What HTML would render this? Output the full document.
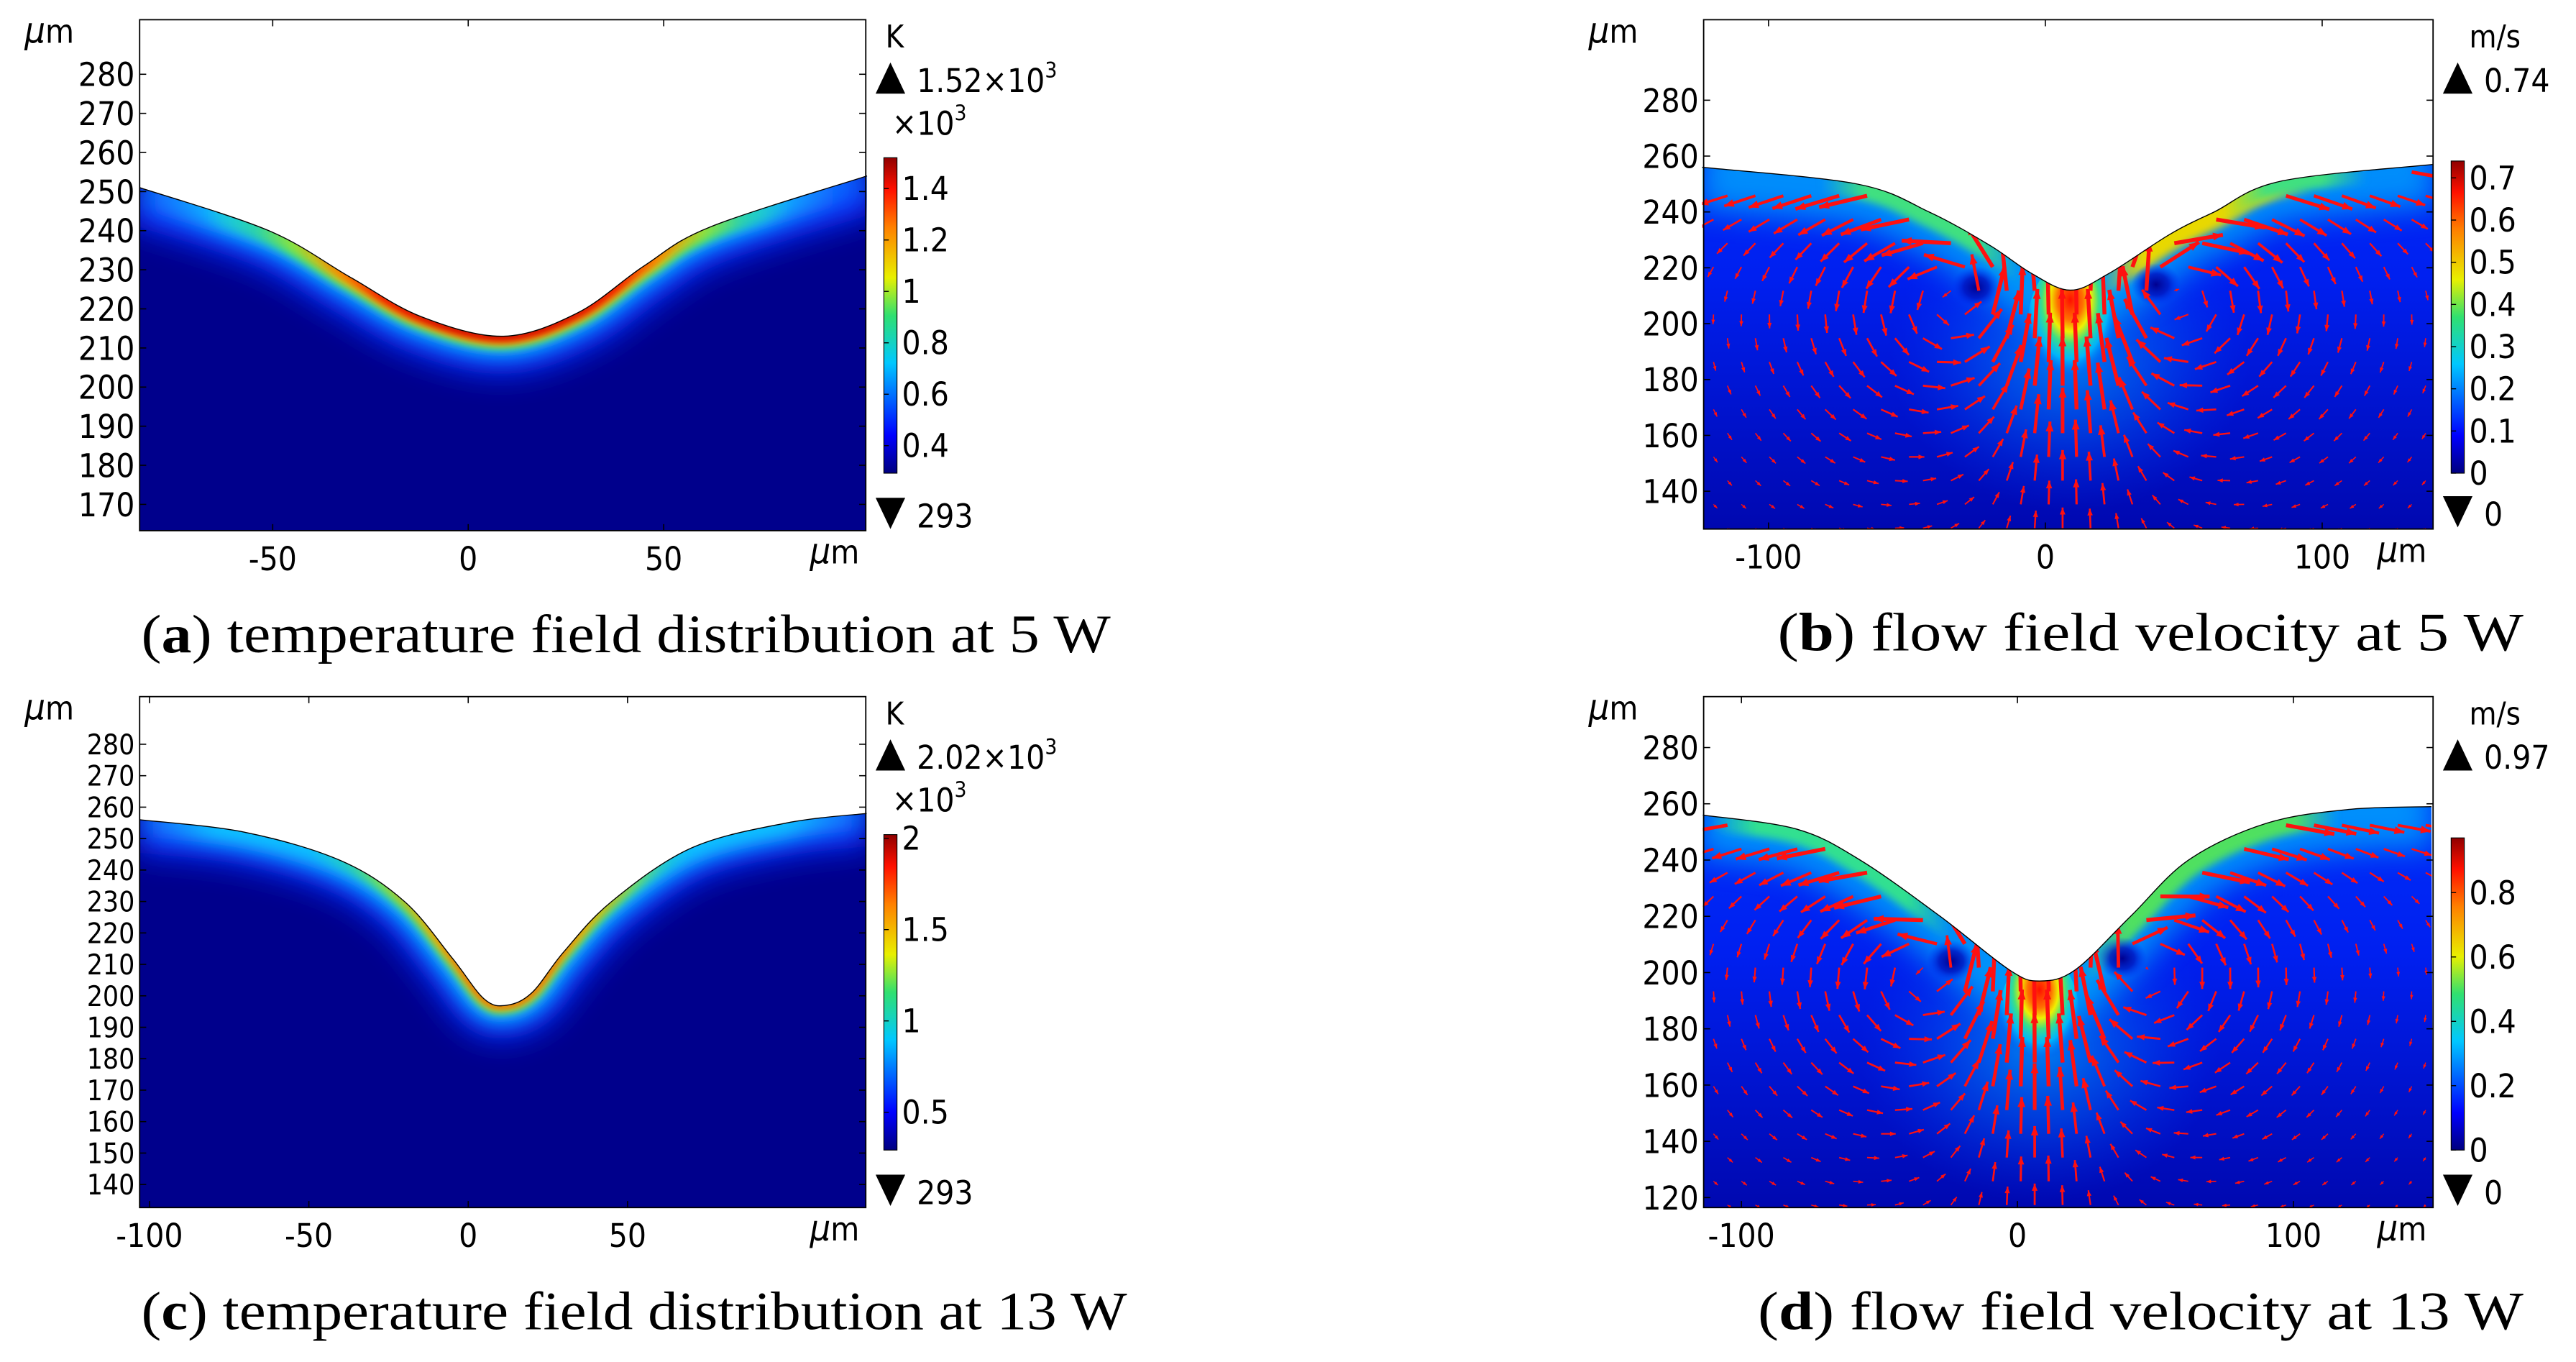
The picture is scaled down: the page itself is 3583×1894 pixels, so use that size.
<!DOCTYPE html>
<html><head><meta charset="utf-8"><style>
html,body{margin:0;padding:0;background:#fff;}
svg{display:block;}
.tk{font-family:"DejaVu Sans Condensed","DejaVu Sans","Liberation Sans",sans-serif;fill:#000;}
.cap{font-family:"Liberation Serif","DejaVu Serif",serif;fill:#000;}
</style></head><body>
<svg id="fig" width="3583" height="1894" viewBox="0 0 1568 829" preserveAspectRatio="none" xmlns="http://www.w3.org/2000/svg">
<defs>
<filter id="blur3" filterUnits="userSpaceOnUse" x="0" y="0" width="1568" height="829"><feGaussianBlur stdDeviation="2.5"/></filter>
<filter id="blur6" filterUnits="userSpaceOnUse" x="0" y="0" width="1568" height="829"><feGaussianBlur stdDeviation="6"/></filter>
<filter id="blur10" filterUnits="userSpaceOnUse" x="0" y="0" width="1568" height="829"><feGaussianBlur stdDeviation="9"/></filter>
<linearGradient id="jetT" x1="0" y1="1" x2="0" y2="0">
<stop offset="0" stop-color="#00007f"/><stop offset="0.12" stop-color="#0000ff"/><stop offset="0.35" stop-color="#00c8ff"/><stop offset="0.5" stop-color="#30e070"/><stop offset="0.62" stop-color="#e8f000"/><stop offset="0.78" stop-color="#ff8000"/><stop offset="0.9" stop-color="#ff1000"/><stop offset="1" stop-color="#900000"/>
</linearGradient>
<linearGradient id="velBg" x1="0" y1="0" x2="0" y2="1">
<stop offset="0" stop-color="#0038ff"/><stop offset="0.5" stop-color="#0020f0"/><stop offset="1" stop-color="#0008b0"/>
</linearGradient>
<radialGradient id="blob" cx="0.5" cy="0.3" r="0.6"><stop offset="0" stop-color="#ff1000"/><stop offset="0.25" stop-color="#ff7000"/><stop offset="0.4" stop-color="#f0f000"/><stop offset="0.55" stop-color="#40e080"/><stop offset="0.75" stop-color="#00d0ff" stop-opacity="0.7"/><stop offset="1" stop-color="#0040ff" stop-opacity="0"/></radialGradient>
<radialGradient id="halo"><stop offset="0" stop-color="#00c8ff" stop-opacity="0.6"/><stop offset="0.5" stop-color="#0080ff" stop-opacity="0.35"/><stop offset="1" stop-color="#0040ff" stop-opacity="0"/></radialGradient>
<radialGradient id="vort"><stop offset="0" stop-color="#000090"/><stop offset="0.5" stop-color="#0010c0" stop-opacity="0.8"/><stop offset="1" stop-color="#0030ff" stop-opacity="0"/></radialGradient>
</defs>
</svg>
<script>
// ---------- data ----------
const surfA_x=[-84,-51,-30,-12,9,28,45,62,102];
const surfA_y=[251,240,228,218,213,219,231,241,254];
const surfB_x=[-124,-68,-42,-20,-5,9,23,45,61,85,140];
const surfB_y=[256,250,240,228,218,212,218,232,240,251,257];
const surfC_x=[-103,-70,-40,-20,-5,5,12,20,30,45,70,100,125];
const surfC_y=[256,252,243,230,212,199,197,201,214,230,247,255,258];
const surfD_x=[-114,-80,-57,-28,-3,8,21,41,62,90,120,150];
const surfD_y=[256,251,240,220,201,197,201,220,240,253,258,259];
const yTicksA=[170,180,190,200,210,220,230,240,250,260,270,280];
const yTicksB=[140,160,180,200,220,240,260,280];
const yTicksC=[140,150,160,170,180,190,200,210,220,230,240,250,260,270,280];
const yTicksD=[120,140,160,180,200,220,240,260,280];
const xTicksA=[-50,0,50];
const xTicksB=[-100,0,100];
const xTicksC=[-100,-50,0,50];
const xTicksD=[-100,0,100];
const cbTicksA=[0.4,0.6,0.8,1,1.2,1.4];
const cbTicksB=[0,0.1,0.2,0.3,0.4,0.5,0.6,0.7];
const cbTicksC=[0.5,1,1.5,2];
const cbTicksD=[0,0.2,0.4,0.6,0.8];
const cbRangeA=[0.293,1.52], cbRangeB=[0,0.74], cbRangeC=[0.293,2.02], cbRangeD=[0,0.97];

const NS="http://www.w3.org/2000/svg";
const svg=document.getElementById('fig');
const defs=svg.querySelector('defs');
let uid=0;
function mk(tag,attrs,parent){const e=document.createElementNS(NS,tag);for(const k in attrs)e.setAttribute(k,attrs[k]);(parent||svg).appendChild(e);return e;}

function smoothPath(pts){
  let d=`M${pts[0][0]},${pts[0][1]}`;
  for(let i=0;i<pts.length-1;i++){
    const p0=pts[Math.max(0,i-1)],p1=pts[i],p2=pts[i+1],p3=pts[Math.min(pts.length-1,i+2)];
    const c1=[p1[0]+(p2[0]-p0[0])/6,p1[1]+(p2[1]-p0[1])/6];
    const c2=[p2[0]-(p3[0]-p1[0])/6,p2[1]-(p3[1]-p1[1])/6];
    d+=` C${c1[0]},${c1[1]} ${c2[0]},${c2[1]} ${p2[0]},${p2[1]}`;
  }
  return d;
}
function interpSurf(sx,sy,v){
  for(let i=0;i<sx.length-1;i++){if(v>=sx[i]&&v<=sx[i+1]){const t=(v-sx[i])/(sx[i+1]-sx[i]);return sy[i]+t*(sy[i+1]-sy[i]);}}
  return v<sx[0]?sy[0]:sy[sy.length-1];
}
function hgrad(P,X,L,soft){
  const [bx0,,bx1]=P.box;
  const gid='hg'+(uid++);
  const lg=mk('linearGradient',{id:gid,gradientUnits:'userSpaceOnUse',x1:bx0,y1:0,x2:bx1,y2:0},defs);
  const a=(X(L.from)-bx0)/(bx1-bx0),b=(X(L.to)-bx0)/(bx1-bx0);
  mk('stop',{offset:Math.max(0,a-soft),'stop-color':L.c,'stop-opacity':L.edge||0},lg);
  mk('stop',{offset:a,'stop-color':L.c,'stop-opacity':1},lg);
  mk('stop',{offset:b,'stop-color':L.c,'stop-opacity':1},lg);
  mk('stop',{offset:Math.min(1,b+soft),'stop-color':L.c,'stop-opacity':L.edge||0},lg);
  return gid;
}

function panel(P){
  const g=mk('g',{});
  
  
  const X=v=>P.xc+v*P.sx, Y=v=>P.yref+(P.vref-v)*P.sy;
  const [bx0,by0,bx1,by1]=P.box;
  const pts=P.sx_.map((v,i)=>[X(v),Y(P.sy_[i])]);
  const sp=smoothPath(pts);
  const cid='clip'+(uid++);
  const cp=mk('clipPath',{id:cid},defs);
  mk('path',{d:sp+` L${bx1},${by1} L${bx0},${by1} Z`},cp);
  const field=mk('g',{'clip-path':`url(#${cid})`},g);
  
  
  if(P.type==='T'){
    mk('rect',{x:bx0,y:by0,width:bx1-bx0,height:by1-by0,fill:'#00008c'},field);
    P.layers.forEach(L=>{
      const gid=hgrad(P,X,L,0.12);
      mk('path',{d:sp,fill:'none',stroke:`url(#${gid})`,'stroke-width':L.w,filter:`url(#${L.f||'blur3'})`},field);
    });
  } else {
    mk('rect',{x:bx0,y:by0,width:bx1-bx0,height:by1-by0,fill:'url(#velBg)'},field);
    const cx=X(P.cen[0]),cy=Y(P.cen[1]);
    mk('ellipse',{cx:cx,cy:cy+40,rx:110,ry:95,fill:'url(#halo)'},field);
    mk('path',{d:sp,fill:'none',stroke:'#00d0ff','stroke-width':50,opacity:0.6,filter:'url(#blur10)'},field);
    P.bands.forEach(L=>{
      const gid=hgrad(P,X,L,0.06);
      mk('path',{d:sp,fill:'none',stroke:`url(#${gid})`,'stroke-width':L.w,filter:'url(#blur3)'},field);
    });
    mk('ellipse',{cx:cx,cy:cy+P.blob[1]*0.55,rx:P.blob[0],ry:P.blob[1],fill:'url(#blob)'},field);
    P.vort.forEach(v=>mk('ellipse',{cx:X(v[0]),cy:Y(v[1]),rx:15,ry:13,fill:'url(#vort)'},field));
    const ag=mk('g',{},field);
    
    
    const step=P.step;
    let row=0;
    for(let py=by0+6;py<by1;py+=step*0.85,row++){
      for(let px=bx0+6+(row%2)*step*0.5;px<bx1;px+=step){
        const vx=(px-P.xc)/P.sx, vy=P.vref-(py-P.yref)/P.sy;
        const surf=interpSurf(P.sx_,P.sy_,vx);
        if(vy>surf-1.5) continue;
        let ux=0,uy=0;
        P.vort.forEach((v,k)=>{
          const dx=vx-v[0],dy=vy-v[1];const r=Math.hypot(dx,dy)+6;
          const s=(k===0?1:-1)*Math.exp(-r/40)*0.9/Math.sqrt(r);
          ux+=-dy*s;uy+=dx*s;
        });
        const dxc=vx-P.cen[0],depth=surf-vy;
        const jet=Math.exp(-(dxc*dxc)/(2*17*17))*Math.exp(-Math.max(0,P.cen[1]-vy)/55)*2.6;
        uy+=jet; ux+=dxc*jet*0.02;
        const f=Math.min(1,Math.max(0,(Math.abs(dxc)-22)/20));
        const near=Math.exp(-depth/16)*f;
        ux+=Math.sign(dxc)*near*2.2;
        const m=Math.hypot(ux,uy);if(m<0.05)continue;
        const L=Math.min(30,m*12);
        const ang=Math.atan2(-uy,ux);
        const x2=px+Math.cos(ang)*L,y2=py+Math.sin(ang)*L;
        const w=Math.min(2.4,0.35+m*0.8);
        mk('line',{x1:px,y1:py,x2:x2,y2:y2,stroke:'#ff1010','stroke-width':w},ag);
        const h=Math.min(6,1.5+L*0.22);
        const hx=x2-Math.cos(ang)*h,hy=y2-Math.sin(ang)*h;
        const nx=-Math.sin(ang)*h*0.4,ny=Math.cos(ang)*h*0.4;
        mk('polygon',{points:`${x2},${y2} ${hx+nx},${hy+ny} ${hx-nx},${hy-ny}`,fill:'#ff1010'},ag);
      }
    }
  }
  mk('path',{d:sp,fill:'none',stroke:'#000','stroke-width':0.6},g);
  const frame=mk('rect',{x:bx0,y:by0,width:bx1-bx0,height:by1-by0,fill:'none',stroke:'#000','stroke-width':0.8},g);
  
  
  P.yt.forEach(v=>{
    const y=Y(v);
    mk('line',{x1:bx0,y1:y,x2:bx0+4,y2:y,stroke:'#000','stroke-width':0.7},g);
    mk('line',{x1:bx1,y1:y,x2:bx1-4,y2:y,stroke:'#000','stroke-width':0.7},g);
    const t=mk('text',{x:bx0-3,y:y+P.fs*0.36,'text-anchor':'end','font-size':P.fs,class:'tk'},g);
    t.textContent=v;
    
    
  });
  P.xt.forEach(v=>{
    const x=X(v);
    mk('line',{x1:x,y1:by1,x2:x,y2:by1-4,stroke:'#000','stroke-width':0.7},g);
    mk('line',{x1:x,y1:by0,x2:x,y2:by0+4,stroke:'#000','stroke-width':0.7},g);
    const t=mk('text',{x:x,y:by1+24,'text-anchor':'middle','font-size':20,class:'tk'},g);
    t.textContent=v;
    
    
  });
  const yl=mk('text',{x:bx0-70,y:by0+14,'font-size':20,class:'tk'},g);
  yl.innerHTML='<tspan font-style="italic" font-size="22">μ</tspan>m';
  
  
  const xl=mk('text',{x:bx1-34,y:by1+20,'font-size':20,class:'tk'},g);
  xl.innerHTML='<tspan font-style="italic" font-size="22">μ</tspan>m';
  
  
  const cb=P.cb, cx0=bx1+11;
  const cg=mk('g',{},g);
  
  
  mk('rect',{x:cx0,y:cb.y0,width:8,height:cb.y1-cb.y0,fill:'url(#jetT)',stroke:'#000','stroke-width':0.5},cg);
  const CY=v=>cb.y1-(v-cb.range[0])/(cb.range[1]-cb.range[0])*(cb.y1-cb.y0);
  cb.ticks.forEach(v=>{
    const y=CY(v);
    mk('line',{x1:cx0,y1:y,x2:cx0+3,y2:y,stroke:'#000','stroke-width':0.6},cg);
    const t=mk('text',{x:cx0+11,y:y+7,'font-size':20,class:'tk'},cg);
    t.textContent=v;
    
    
  });
  const u=mk('text',{x:cx0+(P.type==='T'?1:11),y:by0+17,'font-size':19,class:'tk'},cg);
  u.textContent=P.unit;
  
  
  const tu=by0+26;
  mk('polygon',{points:`${cx0-5},${tu+19} ${cx0+13},${tu+19} ${cx0+4},${tu}`,fill:'#000'},cg);
  const mx=mk('text',{x:cx0+20,y:tu+18,'font-size':20,class:'tk'},cg);
  mx.innerHTML=P.maxLbl;
  
  
  if(P.type==='T'){
    const sc=mk('text',{x:cx0+5,y:tu+44,'font-size':20,class:'tk'},cg);
    sc.innerHTML='×10<tspan font-size="13" dy="-9">3</tspan>';
    
    
  }
  const td=by1-20;
  mk('polygon',{points:`${cx0-5},${td} ${cx0+13},${td} ${cx0+4},${td+19}`,fill:'#000'},cg);
  const mn=mk('text',{x:cx0+20,y:td+18,'font-size':20,class:'tk'},cg);
  mn.textContent=P.minLbl;
  
  
  const c=mk('text',{x:P.capX,y:by1+74,'font-size':33,class:'cap',textLength:P.capW,lengthAdjust:'spacingAndGlyphs'},g);
  c.innerHTML=P.cap;
  
  
}

panel({name:'panel-a-temperature-5w',type:'T',box:[85,12,527,323],xc:285,sx:2.38,vref:170,yref:307,sy:2.38,
  sx_:surfA_x,sy_:surfA_y,yt:yTicksA,xt:xTicksA,fs:20,
  layers:[{w:46,c:'#0a30ff',from:-90,to:110,edge:1,f:'blur10'},{w:24,c:'#10c8ff',from:-62,to:75,edge:0.25,f:'blur6'},{w:16,c:'#40e070',from:-45,to:60},{w:11,c:'#f0e400',from:-32,to:48},{w:8,c:'#ff2000',from:-22,to:38},{w:3,c:'#b00000',from:-8,to:24}],
  cb:{y0:96,y1:288,range:cbRangeA,ticks:cbTicksA},unit:'K',maxLbl:'1.52×10<tspan font-size="13" dy="-9">3</tspan>',minLbl:'293',
  capX:86,capW:590,cap:'(<tspan font-weight="bold">a</tspan>) temperature field distribution at 5 W'});
panel({name:'panel-b-velocity-5w',type:'V',box:[1037,12,1481,322],xc:1245,sx:1.685,vref:280,yref:61,sy:1.7,
  sx_:surfB_x,sy_:surfB_y,yt:yTicksB,xt:xTicksB,fs:20,
  bands:[{w:18,c:'#40e080',from:-65,to:-25},{w:20,c:'#e8d800',from:35,to:80},{w:16,c:'#40e080',from:80,to:100}],cen:[9,212],blob:[26,40],vort:[[-25,213],[40,214]],step:17,
  cb:{y0:98,y1:288,range:cbRangeB,ticks:cbTicksB},unit:'m/s',maxLbl:'0.74',minLbl:'0',
  capX:1082,capW:454,cap:'(<tspan font-weight="bold">b</tspan>) flow field velocity at 5 W'});
panel({name:'panel-c-temperature-13w',type:'T',box:[85,424,527,735],xc:285,sx:1.94,vref:280,yref:453,sy:1.914,
  sx_:surfC_x,sy_:surfC_y,yt:yTicksC,xt:xTicksC,fs:17,
  layers:[{w:40,c:'#0a30ff',from:-110,to:130,edge:1,f:'blur10'},{w:20,c:'#10c8ff',from:-80,to:100,edge:0.25,f:'blur6'},{w:10,c:'#40e070',from:-22,to:42},{w:6,c:'#f0e400',from:-10,to:35},{w:3,c:'#ff2000',from:0,to:25}],
  cb:{y0:508,y1:700,range:cbRangeC,ticks:cbTicksC},unit:'K',maxLbl:'2.02×10<tspan font-size="13" dy="-9">3</tspan>',minLbl:'293',
  capX:86,capW:600,cap:'(<tspan font-weight="bold">c</tspan>) temperature field distribution at 13 W'});
panel({name:'panel-d-velocity-13w',type:'V',box:[1037,424,1481,735],xc:1228,sx:1.68,vref:280,yref:455,sy:1.712,
  sx_:surfD_x,sy_:surfD_y,yt:yTicksD,xt:xTicksD,fs:20,
  bands:[{w:18,c:'#30e090',from:-95,to:-40},{w:20,c:'#50e060',from:40,to:100}],cen:[8,197],blob:[24,36],vort:[[-24,204],[38,205]],step:17,
  cb:{y0:510,y1:700,range:cbRangeD,ticks:cbTicksD},unit:'m/s',maxLbl:'0.97',minLbl:'0',
  capX:1070,capW:466,cap:'(<tspan font-weight="bold">d</tspan>) flow field velocity at 13 W'});
</script>
</body></html>
